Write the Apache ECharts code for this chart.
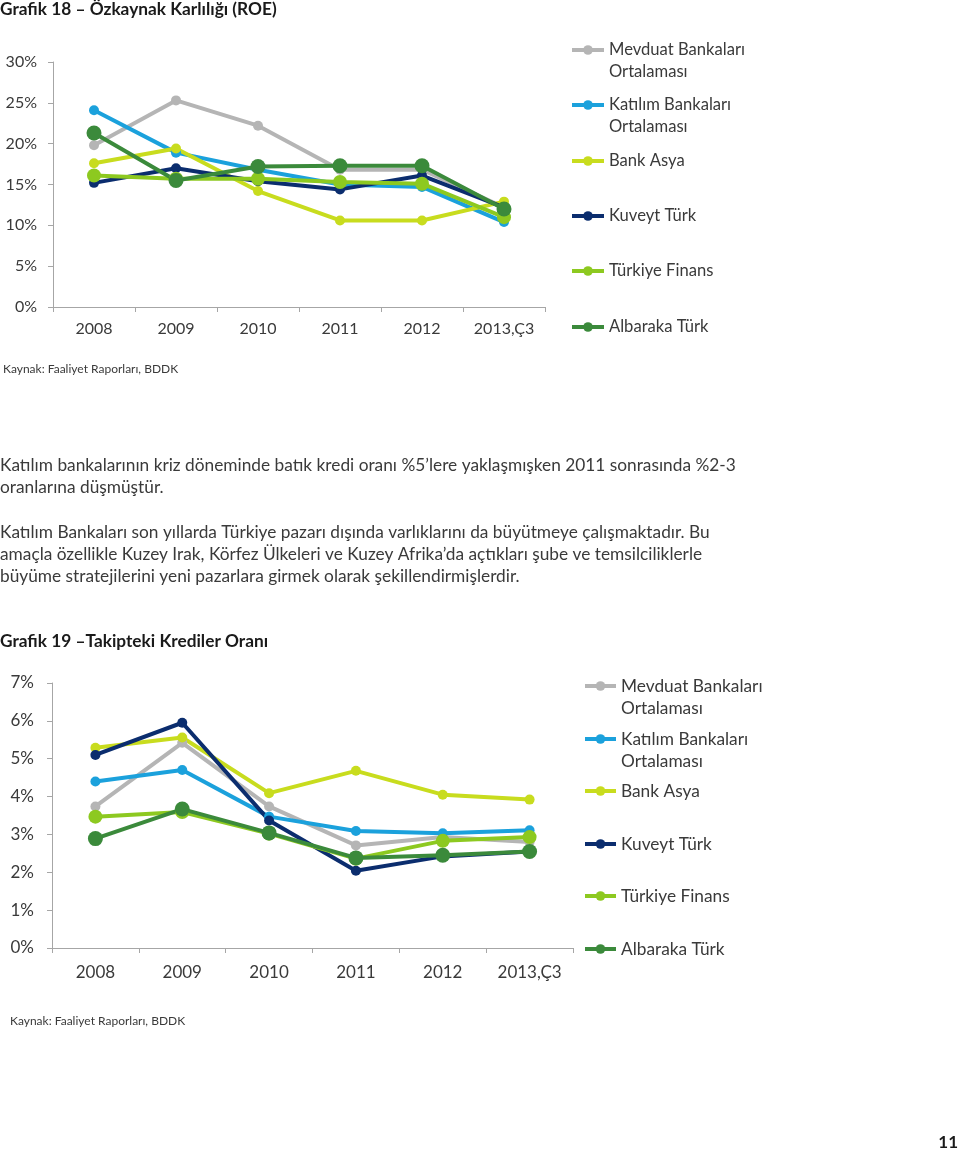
<!DOCTYPE html>
<html><head><meta charset="utf-8">
<script src="https://cdn.jsdelivr.net/npm/echarts@6/dist/echarts.min.js"></script>
<style>html,body{margin:0;padding:0;background:#fff}#c{width:960px;height:1153px}</style>
</head><body><div id="c"></div>
<script>
const categories = ['2008', '2009', '2010', '2011', '2012', '2013,Ç3'];
const seriesNames = ['Mevduat Bankaları Ortalaması', 'Katılım Bankaları Ortalaması', 'Bank Asya', 'Kuveyt Türk', 'Türkiye Finans', 'Albaraka Türk'];

// Grafik 18 – ROE (%)
const roeMevduat  = [19.8, 25.3, 22.2, 16.8, 16.8, 12.2];
const roeKatilim  = [24.1, 18.9, 16.8, 15.0, 14.7, 10.4];
const roeBankAsya = [17.6, 19.4, 14.2, 10.6, 10.6, 12.9];
const roeKuveyt   = [15.2, 17.0, 15.4, 14.4, 16.1, 12.2];
const roeTFinans  = [16.1, 15.7, 15.7, 15.3, 15.1, 11.0];
const roeAlbaraka = [21.3, 15.5, 17.2, 17.3, 17.3, 12.0];

// Grafik 19 – Takipteki Krediler Oranı (%)
const tkMevduat  = [3.74, 5.42, 3.74, 2.71, 2.93, 2.80];
const tkKatilim  = [4.40, 4.70, 3.47, 3.09, 3.03, 3.11];
const tkBankAsya = [5.29, 5.56, 4.09, 4.68, 4.05, 3.92];
const tkKuveyt   = [5.10, 5.95, 3.37, 2.04, 2.42, 2.55];
const tkTFinans  = [3.47, 3.59, 3.02, 2.36, 2.83, 2.93];
const tkAlbaraka = [2.89, 3.67, 3.04, 2.38, 2.45, 2.55];

const roeTicks = [0, 30, 5];
const tkTicks = [0, 7, 1];

const FONT = 'Lato';
const TXT = '#3a3a3a';
const AX = '#a6a6a6';
const colors = ['#b5b5b5', '#1ba1dc', '#c8dc1e', '#0b2d6e', '#8dc920', '#3b8a3b'];
const symSizes = [10, 10, 10, 10, 14, 15];

const chart = echarts.init(document.getElementById('c'), null, {renderer: 'canvas'});

function makeAxes(gi, ticks, ymargin, xmargin, fs) {
  return {
    x: {
      type: 'category', gridIndex: gi, data: categories, boundaryGap: true,
      axisLine: {show: true, lineStyle: {color: AX, width: 1}},
      axisTick: {show: true, length: 5, lineStyle: {color: AX, width: 1}},
      axisLabel: {fontFamily: FONT, fontSize: fs, color: TXT, margin: xmargin},
      splitLine: {show: false}
    },
    y: {
      type: 'value', gridIndex: gi, min: ticks[0], max: ticks[1], interval: ticks[2],
      axisLine: {show: true, lineStyle: {color: AX, width: 1}},
      axisTick: {show: true, length: 5, lineStyle: {color: AX, width: 1}},
      axisLabel: {fontFamily: FONT, fontSize: fs, color: TXT, margin: ymargin, formatter: '{value}%'},
      splitLine: {show: false}
    }
  };
}
const a1 = makeAxes(0, roeTicks, 16, 14, 16);
const a2 = makeAxes(1, tkTicks, 18, 16, 17);

function makeSeries(gi, arrays) {
  return arrays.map((d, i) => ({
    name: seriesNames[i], type: 'line', xAxisIndex: gi, yAxisIndex: gi, data: d,
    symbol: 'circle', symbolSize: symSizes[i], showSymbol: true,
    lineStyle: {color: colors[i], width: 4},
    itemStyle: {color: colors[i]},
    emphasis: {disabled: true}, animation: false
  }));
}

function makeLegends(centers, left, itemWidth, fs) {
  return seriesNames.map((n, i) => {
    const two = n.indexOf(' Ortalaması') >= 0;
    return {
      data: [n], orient: 'vertical', left: left, top: two ? centers[i] - 33 : centers[i] - 11,
      padding: 0, itemWidth: itemWidth, itemHeight: 12, itemGap: 0, selectedMode: false,
      lineStyle: {width: 4},
      formatter: nm => nm.indexOf(' Ortalaması') >= 0 ? '\n' + nm.replace(' Ortalaması', '\nOrtalaması') : nm,
      textStyle: {fontFamily: FONT, fontSize: fs, color: TXT, lineHeight: 22}
    };
  });
}

const option = {
  backgroundColor: '#fff',
  animation: false,
  title: [
    {text: 'Grafik 18 – Özkaynak Karlılığı (ROE)', left: 0, top: 1, padding: 0,
     textStyle: {fontFamily: FONT, fontSize: 17.3, fontWeight: 'bold', color: '#1a1a1a'}},
    {text: 'Kaynak: Faaliyet Raporları, BDDK', left: 3, top: 363, padding: 0,
     textStyle: {fontFamily: FONT, fontSize: 12, fontWeight: 'normal', color: TXT}},
    {text: 'Katılım bankalarının kriz döneminde batık kredi oranı %5’lere yaklaşmışken 2011 sonrasında %2-3\noranlarına düşmüştür.',
     left: 0, top: 454, padding: 0,
     textStyle: {fontFamily: FONT, fontSize: 17.3, fontWeight: 'normal', color: TXT, lineHeight: 22}},
    {text: 'Katılım Bankaları son yıllarda Türkiye pazarı dışında varlıklarını da büyütmeye çalışmaktadır. Bu\namaçla özellikle Kuzey Irak, Körfez Ülkeleri ve Kuzey Afrika’da açtıkları şube ve temsilciliklerle\nbüyüme stratejilerini yeni pazarlara girmek olarak şekillendirmişlerdir.',
     left: 0, top: 521, padding: 0,
     textStyle: {fontFamily: FONT, fontSize: 17.3, fontWeight: 'normal', color: TXT, lineHeight: 22}},
    {text: 'Grafik 19 –Takipteki Krediler Oranı', left: 0, top: 633, padding: 0,
     textStyle: {fontFamily: FONT, fontSize: 17.3, fontWeight: 'bold', color: '#1a1a1a'}},
    {text: 'Kaynak: Faaliyet Raporları, BDDK', left: 10, top: 1015, padding: 0,
     textStyle: {fontFamily: FONT, fontSize: 12, fontWeight: 'normal', color: TXT}},
    {text: '11', right: 2, top: 1134, padding: 0,
     textStyle: {fontFamily: FONT, fontSize: 17, fontWeight: 'bold', color: '#1a1a1a'}}
  ],
  grid: [
    {left: 53, right: 415, top: 62, bottom: 846, outerBoundsMode: 'none'},
    {left: 52, right: 387, top: 683, bottom: 205, outerBoundsMode: 'none'}
  ],
  xAxis: [a1.x, a2.x],
  yAxis: [a1.y, a2.y],
  legend: [].concat(
    makeLegends([50, 105, 161, 216, 271, 327], 570, 32, 16.6),
    makeLegends([686, 739, 791, 844, 896, 949], 583, 31, 17.3)
  ),
  series: [].concat(
    makeSeries(0, [roeMevduat, roeKatilim, roeBankAsya, roeKuveyt, roeTFinans, roeAlbaraka]),
    makeSeries(1, [tkMevduat, tkKatilim, tkBankAsya, tkKuveyt, tkTFinans, tkAlbaraka])
  )
};
chart.setOption(option);
</script>
</body></html>
